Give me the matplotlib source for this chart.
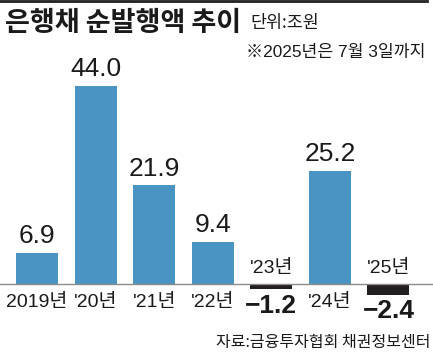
import matplotlib
matplotlib.use("Agg")
import matplotlib.pyplot as plt

years = ["2019년", "'20년", "'21년", "'22년", "'23년", "'24년", "'25년"]
values = [6.9, 44.0, 21.9, 9.4, -1.2, 25.2, -2.4]
labels = ["6.9", "44.0", "21.9", "9.4", "−1.2", "25.2", "−2.4"]

BLUE = "#4a94c4"
DARK = "#231f20"
NUM = ["Liberation Sans", "Noto Sans CJK KR", "DejaVu Sans"]
KR = ["Noto Sans CJK KR", "DejaVu Sans"]

W, H = 433, 355
fig = plt.figure(figsize=(W / 100, H / 100), dpi=100)
ax = fig.add_axes([0, 0, 1, 1])
ax.set_xlim(-0.632, 6.76)
ax.set_ylim(-71 / 4.5, 284 / 4.5)
ax.axis("off")

x = list(range(len(values)))
cols = [BLUE if v >= 0 else DARK for v in values]
ax.bar(x, values, width=0.717, color=cols, zorder=2)
ax.axhline(0, color="#8a8a8a", lw=1.0, zorder=3)

for xi, v, lab, yr in zip(x, values, labels, years):
    if v >= 0:
        ax.annotate(lab, (xi, v), xytext=(0, 12), textcoords="offset points",
                    ha="center", va="center", fontsize=19, family=NUM, color="#1a1a1a")
        ax.annotate(yr, (xi, 0), xytext=(0, -13), textcoords="offset points",
                    ha="center", va="center", fontsize=14, family=NUM, color="#1a1a1a")
    else:
        ax.annotate(lab, (xi, v), xytext=(0, -12), textcoords="offset points",
                    ha="center", va="center", fontsize=19, family=NUM,
                    fontweight="bold", color="#1a1a1a")
        ax.annotate(yr, (xi, 0), xytext=(0, 11), textcoords="offset points",
                    ha="center", va="center", fontsize=14, family=NUM, color="#1a1a1a")

# top rule
fig.add_artist(plt.Line2D([0, 427 / W], [1 - 1 / H, 1 - 1 / H], color=DARK, lw=2))

fig.text(5 / W, 1 - 23 / H, "은행채 순발행액 추이", ha="left", va="center",
         fontsize=19.5, fontweight="bold", family=KR, color="#1a1a1a")
fig.text(250 / W, 1 - 23 / H, "단위:조원", ha="left", va="center",
         fontsize=12.5, family=KR, color="#1a1a1a")
fig.text(425 / W, 1 - 52 / H, "※2025년은 7월 3일까지", ha="right", va="center",
         fontsize=12.4, family=NUM, color="#1a1a1a")
fig.text(430 / W, 1 - 343 / H, "자료:금융투자협회 채권정보센터", ha="right", va="center",
         fontsize=11.5, family=KR, color="#1a1a1a")

fig.savefig("out.png", dpi=100)
